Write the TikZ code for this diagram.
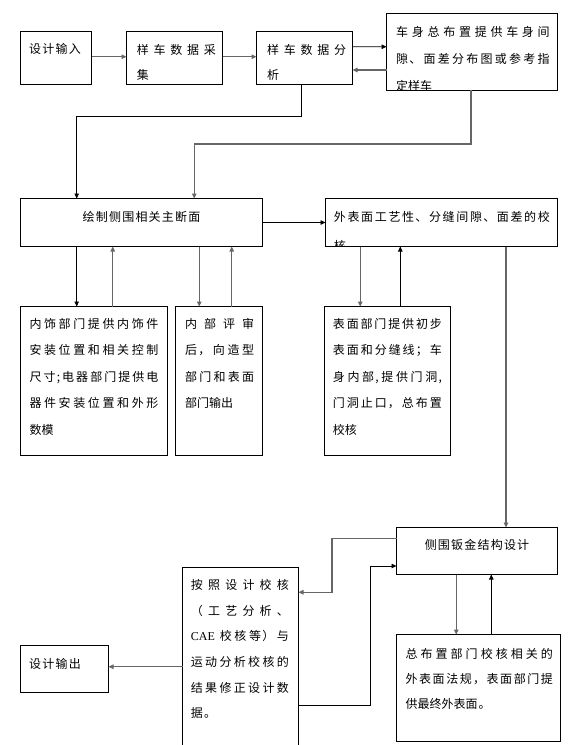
\documentclass[tikz,border=0pt]{standalone}
\usepackage{fontspec}
\newfontfamily\cjk{Noto Sans CJK SC}[LetterSpace=10]
\newfontfamily\latin{Liberation Serif}
\usetikzlibrary{arrows.meta}
\XeTeXlinebreaklocale "zh"
\XeTeXlinebreakskip=0pt plus 5pt
\newcommand\gap{\hskip 0pt plus 5pt}

\begin{document}
\begin{tikzpicture}[x=1pt, y=-1pt,
    font=\cjk\fontsize{12}{25.5}\selectfont,
    box/.style={draw, line width=.8pt, inner sep=0pt, outer sep=0pt},
    txt/.style={anchor=base west, inner sep=0pt, align=justify, text width=#1},
    link/.style={line width=.8pt, -{Triangle[length=5pt,width=4.5pt]}},
    glink/.style={link, draw=black!60, line width=1.1pt}]
    \useasboundingbox (0,0) rectangle (584,745);
    \clip (0,0) rectangle (584,745);

    \node[box, minimum width=71pt, minimum height=53pt] (input) at (56,58) {};
    \node[box, minimum width=96pt, minimum height=53pt] (collect) at (174.5,58) {};
    \node[box, minimum width=96pt, minimum height=53pt] (analyse) at (304.5,58) {};
    \node[box, minimum width=171pt, minimum height=76.5pt] (layout) at (472,51.75) {};
    \node[box, minimum width=242pt, minimum height=48pt] (section) at (141.5,222.5) {};
    \node[box, minimum width=232pt, minimum height=48pt] (surface) at (441.5,222.5) {};
    \node[box, minimum width=147pt, minimum height=148.5pt] (trim) at (94,380.75) {};
    \node[box, minimum width=87pt, minimum height=148.5pt] (review) at (219,380.75) {};
    \node[box, minimum width=126pt, minimum height=148.5pt] (surfdep) at (387.5,380.75) {};
    \node[box, minimum width=161pt, minimum height=47pt] (sheet) at (477,551) {};
    \node[box, minimum width=116pt, minimum height=192.5pt] (revise) at (240.5,663.75) {};
    \node[box, minimum width=164pt, minimum height=107pt] (check) at (478.5,688) {};
    \node[box, minimum width=88pt, minimum height=47.5pt] (output) at (64.5,668.75) {};

    \node[anchor=base west, inner sep=0pt] (input-t) at (29,53) {设计输入};
    \node[txt=79pt] (collect-t) at (136.7,54) {样车数据采\linebreak 集};
    \node[txt=79pt] (analyse-t) at (267,54) {样车数据分\linebreak 析};
    \begin{scope}
        \clip (layout.north west) rectangle (layout.south east);
        \node[txt=153.5pt, font=\cjk\fontsize{12}{27}\selectfont] (layout-t) at (396,36.3)
            {车身总布置提供车身间\linebreak 隙、面差分布图或参考指\linebreak 定样车};
    \end{scope}
    \node[anchor=base, inner sep=0pt] (section-t) at (141.5,221.3) {绘制侧围相关主断面};
    \begin{scope}
        \clip (surface.north west) rectangle (surface.south east);
        \node[txt=216pt, font=\cjk\fontsize{12}{29}\selectfont] (surface-t) at (333.7,221.3)
            {外表面工艺性、分缝间隙、面差的校\linebreak 核};
    \end{scope}
    \node[txt=129pt, font=\cjk\fontsize{12}{26.5}\selectfont] (trim-t) at (29.3,328)
        {内饰部门提供内饰件\linebreak 安装位置和相关控制\linebreak 尺寸;电器部门提供电\linebreak 器件安装位置和外形\linebreak 数模};
    \node[txt=69pt, font=\cjk\fontsize{12}{26.5}\selectfont] (review-t) at (185,328)
        {内部评审\linebreak 后，向造型\linebreak 部门和表面\linebreak 部门输出};
    \node[txt=109pt, font=\cjk\fontsize{12}{26.5}\selectfont] (surfdep-t) at (332.7,328)
        {表面部门提供初步\linebreak 表面和分缝线；车\linebreak 身内部,提供门洞,\linebreak 门洞止口，总布置\linebreak 校核};
    \node[anchor=base, inner sep=0pt] (sheet-t) at (477,549.6) {侧围钣金结构设计};
    \node[txt=98pt, font=\cjk\fontsize{12}{25.6}\selectfont] (revise-t) at (190.7,589.6)
        {按照设计校核\linebreak （\gap 工艺分析\gap 、\linebreak {\latin CAE} 校核等）与\linebreak 运动分析校核的\linebreak 结果修正设计数\linebreak 据。};
    \node[txt=147.5pt, font=\cjk\fontsize{12}{25}\selectfont] (check-t) at (405.3,658)
        {总布置部门校核相关的\linebreak 外表面法规，表面部门提\linebreak 供最终外表面。};
    \node[anchor=base west, inner sep=0pt] (output-t) at (29,668.6) {设计输出};

    \draw[glink] ([yshift=1.3pt]input.east) -- ([yshift=1.3pt]collect.west);
    \draw[glink] ([yshift=1.3pt]collect.east) -- ([yshift=1.3pt]analyse.west);
    \draw[link] ([yshift=11.3pt]analyse.east) -- ([yshift=5pt]layout.west);
    \draw[glink] ([yshift=-18.25pt]layout.west) -- ([yshift=-12pt]analyse.east);
    \draw[link] ([xshift=-3.2pt]analyse.south) -- ++(0,31.5) -| ([xshift=-64.8pt]section.north);
    \draw[glink] ([xshift=-1pt]layout.south) -- ++(0,54) -| ([xshift=52.8pt]section.north);
    \draw[link] (section.east) -- (surface.west);

    \draw[link] ([xshift=-64.8pt]section.south) -- ([xshift=-17.3pt]trim.north);
    \draw[glink] ([xshift=18.7pt]trim.north) -- ([xshift=-28.8pt]section.south);
    \draw[glink] ([xshift=57.8pt]section.south) -- ([xshift=-19.7pt]review.north);
    \draw[glink] ([xshift=12.7pt]review.north) -- ([xshift=90.2pt]section.south);
    \draw[glink] ([xshift=-81.2pt]surface.south) -- ([xshift=-27.2pt]surfdep.north);
    \draw[link] ([xshift=12.8pt]surfdep.north) -- ([xshift=-41.2pt]surface.south);
    \draw[glink] ([xshift=64.5pt]surface.south) -- ([xshift=29pt]sheet.north);

    \draw[glink] ([yshift=12.7pt]sheet.west) -- ++(-64.5,0) |- ([yshift=71.5pt]revise.east);
    \draw[link] ([yshift=-41.3pt]revise.east) -- ++(71.8,0) |- ([yshift=-15pt]sheet.west);
    \draw[glink] ([xshift=-20.7pt]sheet.south) -- ([xshift=-22.2pt]check.north);
    \draw[link] ([xshift=12.8pt]check.north) -- ([xshift=14.3pt]sheet.south);
    \draw[glink] ([yshift=-2.95pt]revise.west) -- ([yshift=2.05pt]output.east);
\end{tikzpicture}
\end{document}
